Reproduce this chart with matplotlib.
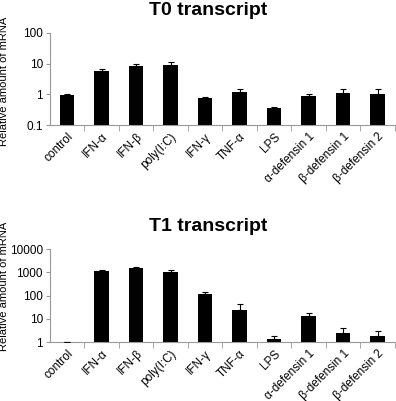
import numpy as np
import matplotlib
matplotlib.use("Agg")
import matplotlib.pyplot as plt

plt.rcParams['font.family'] = ['Liberation Sans', 'DejaVu Sans']

categories = ['control', 'IFN-α', 'IFN-β', 'poly(I:C)', 'IFN-γ', 'TNF-α', 'LPS',
              'α-defensin 1', 'β-defensin 1', 'β-defensin 2']

t0_values = [0.98, 5.8, 8.2, 9.0, 0.76, 1.18, 0.37, 0.86, 1.15, 1.05]
t0_err = [0.03, 0.9, 1.6, 2.4, 0.06, 0.3, 0.03, 0.16, 0.34, 0.44]

t1_values = [1.0, 1130, 1500, 1070, 122, 24, 1.4, 13, 2.4, 1.9]
t1_err = [0, 120, 180, 230, 26, 18, 0.4, 5.5, 1.5, 1.0]

fig = plt.figure(figsize=(3.96, 4.01), dpi=100)


def draw(ax, vals, errs, ylim, ticks, ticklabels, title):
    x = np.arange(len(categories))
    ax.bar(x, vals, width=0.42, color='black', zorder=2)
    ax.errorbar(x, vals, yerr=[np.zeros(len(errs)), errs], fmt='none',
                ecolor='black', elinewidth=0.8, capsize=2.5, capthick=0.8, zorder=3)
    ax.set_yscale('log')
    ax.set_ylim(*ylim)
    ax.set_xlim(-0.5, len(categories) - 0.5)
    ax.set_yticks(ticks)
    ax.set_yticklabels(ticklabels, fontsize=8.5)
    ax.yaxis.set_minor_locator(matplotlib.ticker.NullLocator())
    ax.set_xticks(x)
    ax.set_xticklabels(categories, rotation=45, ha='right', rotation_mode='anchor', fontsize=8.5)
    ax.tick_params(axis='x', length=0, pad=4)
    ax.set_xticks(np.arange(len(categories)) + 0.5, minor=True)
    ax.tick_params(axis='x', which='minor', length=4, color='#999999')
    ax.tick_params(axis='y', length=3, color='#999999', pad=2)
    for s in ['top', 'right']:
        ax.spines[s].set_visible(False)
    for s in ['left', 'bottom']:
        ax.spines[s].set_color('#999999')
        ax.spines[s].set_linewidth(0.8)
    ax.set_title(title, fontsize=14, fontweight='bold', pad=13, x=0.458)
    ax.set_ylabel('Relative amount of mRNA', fontsize=8)


ax1 = fig.add_axes([0.126, 0.688, 0.871, 0.230])
draw(ax1, t0_values, t0_err, (0.1, 100), [0.1, 1, 10, 100], ['0.1', '1', '10', '100'], 'T0 transcript')
ax1.yaxis.set_label_coords(-0.118, 0.47)

ax2 = fig.add_axes([0.126, 0.147, 0.871, 0.232])
draw(ax2, t1_values, t1_err, (1, 10000), [1, 10, 100, 1000, 10000],
     ['1', '10', '100', '1000', '10000'], 'T1 transcript')
ax2.yaxis.set_label_coords(-0.118, 0.6)

fig.savefig('out.png', dpi=100)
